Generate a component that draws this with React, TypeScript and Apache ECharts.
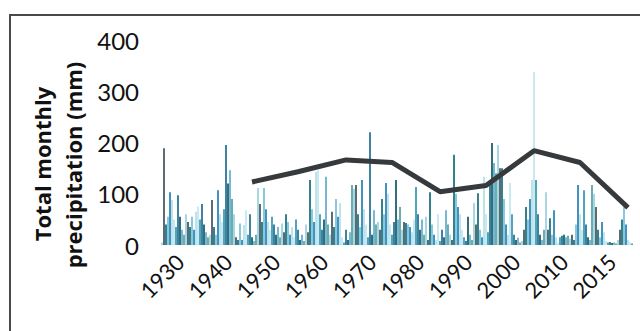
import React, { useEffect, useRef } from "react";
import * as echarts from "echarts";

// Monthly precipitation bars (mm), read left to right across the plot
const precipitation: number[] = [
  5, 189, 40, 55, 103, 88, 50, 35, 97, 55, 30, 20, 60, 45, 35, 55, 30, 65, 75, 50,
  80, 40, 25, 15, 20, 88, 35, 20, 107, 60, 45, 70, 195, 120, 146, 90, 60, 15, 10, 42,
  10, 39, 68, 20, 60, 15, 8, 20, 111, 80, 45, 111, 70, 45, 30, 55, 40, 20, 35, 15,
  42, 25, 60, 45, 20, 35, 15, 50, 30, 10, 20, 8, 40, 25, 127, 70, 45, 143, 146, 60,
  30, 50, 133, 40, 20, 65, 35, 90, 55, 82, 15, 5, 30, 10, 25, 117, 110, 117, 60, 35,
  127, 70, 40, 15, 220, 20, 68, 40, 45, 30, 90, 60, 121, 100, 40, 20, 45, 127, 50, 74,
  30, 45, 43, 40, 35, 25, 50, 113, 60, 30, 50, 20, 55, 10, 103, 40, 20, 10, 60, 8,
  30, 15, 68, 40, 20, 10, 176, 100, 74, 60, 30, 15, 8, 55, 20, 10, 82, 40, 101, 30,
  15, 133, 60, 25, 120, 199, 160, 140, 195, 150, 150, 90, 40, 20, 121, 60, 20, 10, 14, 5,
  8, 30, 74, 50, 90, 127, 338, 127, 60, 20, 10, 30, 103, 30, 52, 20, 68, 15, 5, 15,
  18, 20, 15, 18, 12, 20, 10, 40, 117, 60, 30, 107, 40, 15, 10, 117, 100, 74, 30, 15,
  45, 25, 8, 5, 6, 4, 5, 3, 10, 30, 50, 74, 40, 10, 5, 3,
];

// Decadal mean line (mm) and the bar positions where its points sit
const trendValues: number[] = [123, 143, 166, 161, 104, 116, 184, 161, 73];
const trendAt: number[] = [45, 68, 92, 115, 139, 162, 186, 209, 233];

// X tick labels and the bar positions they sit under
const xTickLabels: string[] = ["1930", "1940", "1950", "1960", "1970", "1980", "1990", "2000", "2010", "2015"];
const xTickAt: number[] = [9, 33, 57, 81, 105, 129, 153, 177, 201, 225];

const yTicks: number[] = [0, 100, 200, 300, 400];

const palette = [
  "#9fd3e0", "#4b5b63", "#1e7480", "#7cc3dc", "#2f86b8", "#b8e0e8",
  "#c5e6ee", "#3d9bb5", "#2a7595", "#1d5f6e", "#6ab0d0", "#58a6a6",
];

export default function App() {
  const ref = useRef<HTMLDivElement>(null);
  useEffect(() => {
    if (!ref.current) return;
    const chart = echarts.init(ref.current, undefined, { renderer: "svg" });
    const n = precipitation.length;
    const cats = precipitation.map((_, i) => String(i));
    const labelMap = new Map<number, string>();
    xTickAt.forEach((p, k) => labelMap.set(p, xTickLabels[k]));
    const lineData: (number | null)[] = precipitation.map(() => null);
    trendAt.forEach((p, k) => (lineData[p] = trendValues[k]));
    const font = "Lato, 'Open Sans', sans-serif";
    const titleFont = "'Open Sans', Lato, sans-serif";

    chart.setOption({
      animation: false,
      backgroundColor: "#ffffff",
      grid: { left: 161, top: 40, width: n * 2, height: 205, containLabel: false },
      xAxis: {
        type: "category",
        data: cats,
        axisLine: { show: false },
        axisTick: { show: false },
        splitLine: { show: false },
        axisLabel: {
          interval: (i: number) => labelMap.has(i),
          formatter: (_v: string, i: number) => labelMap.get(i) ?? "",
          rotate: 45,
          margin: 13,
          fontFamily: font,
          fontSize: 22,
          color: "#111111",
        },
      },
      yAxis: {
        type: "value",
        min: yTicks[0],
        max: yTicks[yTicks.length - 1],
        interval: 100,
        axisLine: { show: false },
        axisTick: { show: false },
        splitLine: { show: false },
        axisLabel: {
          margin: 22,
          fontFamily: font,
          fontSize: 24,
          color: "#111111",
        },
      },
      series: [
        {
          type: "bar",
          data: precipitation.map((v, i) => ({
            value: v,
            itemStyle: { color: palette[i % palette.length] },
          })),
          barWidth: 1.8,
          z: 2,
        },
        {
          type: "line",
          data: lineData,
          connectNulls: true,
          symbol: "none",
          lineStyle: { color: "#363a3c", width: 5 },
          z: 5,
        },
      ],
      graphic: [
        {
          type: "rect",
          shape: { x: 10, y: 15, width: 700, height: 400 },
          style: { fill: "none", stroke: "#4a4a4a", lineWidth: 2 },
          silent: true,
        },
        {
          type: "text",
          x: 42,
          y: 164,
          rotation: Math.PI / 2,
          style: {
            text: "Total monthly",
            font: `bold 22px ${titleFont}`,
            fill: "#111111",
            align: "center",
            verticalAlign: "middle",
          },
        },
        {
          type: "text",
          x: 73,
          y: 165,
          rotation: Math.PI / 2,
          style: {
            text: "precipitation (mm)",
            font: `bold 22px ${titleFont}`,
            fill: "#111111",
            align: "center",
            verticalAlign: "middle",
          },
        },
      ],
    });
    return () => chart.dispose();
  }, []);
  return (
    <div
      ref={ref}
      style={{ position: "fixed", left: 0, top: 0, width: 640, height: 331, background: "#fff" }}
    />
  );
}
